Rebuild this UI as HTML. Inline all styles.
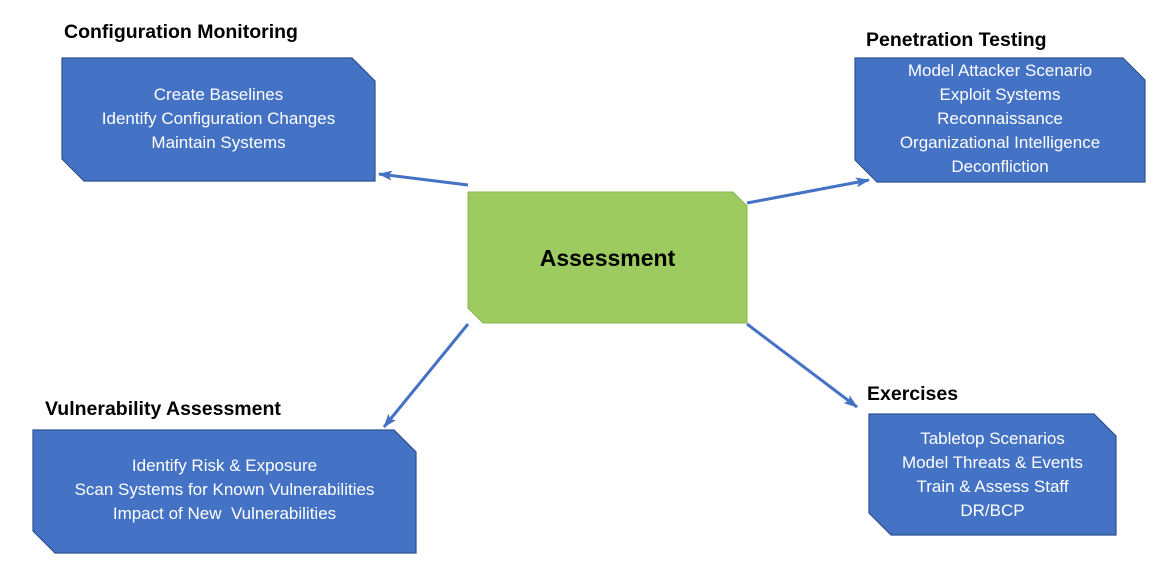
<!DOCTYPE html>
<html><head><style>
body{margin:0;width:1164px;height:562px;background:#fff;position:relative;overflow:hidden;font-family:"Liberation Sans",sans-serif}
.t{position:absolute;font-weight:bold;font-size:19.5px;color:#000;white-space:nowrap}
.tx{position:absolute;color:#fff;font-size:17px;line-height:24px;text-align:center;white-space:nowrap}
</style></head><body>
<svg width="1164" height="562" style="position:absolute;left:0;top:0">
<defs><marker id="a" markerWidth="14" markerHeight="10" refX="13" refY="5" orient="auto" markerUnits="userSpaceOnUse"><path d="M0,0 L14,5 L0,10 L3,5z" fill="#4472c4"/></marker></defs>
<g fill="#4472c4" stroke="#2f528f" stroke-width="1.2">
<polygon points="62,58 352,58 375,81 375,181 84,181 62,159"/>
<polygon points="855,58 1123,58 1145,80 1145,182 877,182 855,160"/>
<polygon points="33,430 394,430 416,452 416,553 55,553 33,531"/>
<polygon points="869,414 1094,414 1116,436 1116,535 891,535 869,513"/>
</g>
<polygon points="468,192 733,192 747,206 747,323 483,323 468,308" fill="#9dcb5f" stroke="#8ab44f"/>
<g stroke="#4472c4" stroke-width="3" fill="none" marker-end="url(#a)">
<line x1="468" y1="185" x2="379" y2="174"/>
<line x1="747" y1="203" x2="869" y2="180"/>
<line x1="468" y1="324" x2="384" y2="427"/>
<line x1="747" y1="324" x2="857" y2="407"/>
</g>
</svg>
<div class="t" style="left:64px;top:21px">Configuration Monitoring</div>
<div class="t" style="left:866px;top:29px">Penetration Testing</div>
<div class="t" style="left:45px;top:398px">Vulnerability Assessment</div>
<div class="t" style="left:867px;top:383px">Exercises</div>
<div class="t" style="left:468px;top:245px;width:279px;text-align:center;font-size:23px">Assessment</div>
<div class="tx" style="left:62px;top:83px;width:313px">Create Baselines<br>Identify Configuration Changes<br>Maintain Systems</div>
<div class="tx" style="left:855px;top:59px;width:290px">Model Attacker Scenario<br>Exploit Systems<br>Reconnaissance<br>Organizational Intelligence<br>Deconfliction</div>
<div class="tx" style="left:33px;top:454px;width:383px">Identify Risk &amp; Exposure<br>Scan Systems for Known Vulnerabilities<br>Impact of New&nbsp; Vulnerabilities</div>
<div class="tx" style="left:869px;top:427px;width:247px">Tabletop Scenarios<br>Model Threats &amp; Events<br>Train &amp; Assess Staff<br>DR/BCP</div>
</body></html>
